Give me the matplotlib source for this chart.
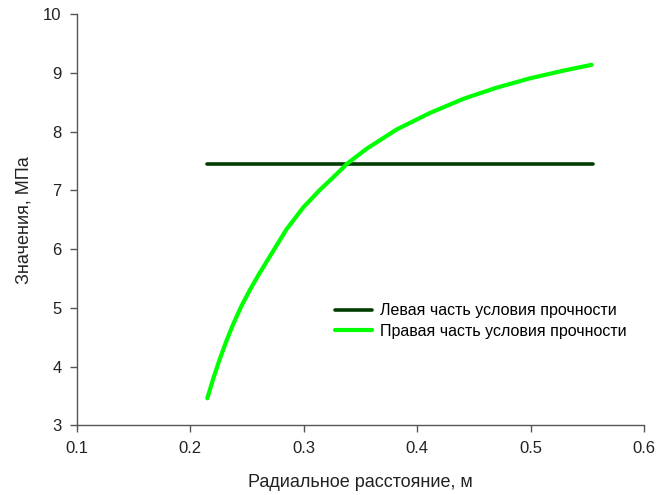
import matplotlib
matplotlib.use("Agg")
import matplotlib.pyplot as plt

plt.rcParams['font.family'] = ['Liberation Sans', 'DejaVu Sans']

# Left part of strength condition (constant)
left_x = [0.2145, 0.5553]
left_y = [7.45, 7.45]

# Right part of strength condition
right_x = [0.2149, 0.2202, 0.2261, 0.232, 0.2379, 0.2452, 0.2526, 0.26, 0.2673,
           0.2848, 0.2995, 0.3142, 0.329, 0.3378, 0.3554, 0.382, 0.4113, 0.4407,
           0.470, 0.4995, 0.5289, 0.5538]
right_y = [3.46, 3.80, 4.14, 4.45, 4.73, 5.04, 5.31, 5.56, 5.79,
           6.34, 6.71, 7.01, 7.28, 7.45, 7.71, 8.04, 8.32, 8.56,
           8.75, 8.91, 9.04, 9.14]

legend_labels = ["Левая часть условия прочности", "Правая часть условия прочности"]
x_ticks = [0.1, 0.2, 0.3, 0.4, 0.5, 0.6]
y_ticks = [3, 4, 5, 6, 7, 8, 9, 10]

fig = plt.figure(figsize=(6.56, 4.95), dpi=100)
ax = fig.add_axes([0.1174, 0.1408, 0.8643, 0.8303])

ax.plot(left_x, left_y, color='#003d00', lw=2.6, solid_capstyle='round',
        solid_joinstyle='round', label=legend_labels[0])
ax.plot(right_x, right_y, color='#00ff00', lw=3.0, solid_capstyle='round',
        solid_joinstyle='round', label=legend_labels[1])

ax.set_xlim(0.1, 0.6)
ax.set_ylim(3, 10)
ax.set_xticks(x_ticks)
ax.set_xticklabels([f"{v:.1f}" for v in x_ticks])
ax.set_yticks(y_ticks)

for s in ['top', 'right']:
    ax.spines[s].set_visible(False)
for s in ['left', 'bottom']:
    ax.spines[s].set_color('#555555')
    ax.spines[s].set_linewidth(1.0)
ax.tick_params(direction='out', length=5, width=1, color='#555555',
               labelsize=12, labelcolor='#222222', pad=6)

ax.set_xlabel("Радиальное расстояние, м", fontsize=13, color='#222222', labelpad=13)
ax.set_ylabel("Значения, МПа", fontsize=13, color='#222222', labelpad=8)

ax.legend(loc='center left', bbox_to_anchor=(0.444, 0.254), frameon=False,
          fontsize=11.5, handlelength=2.3, handletextpad=0.5, labelspacing=0.35,
          borderaxespad=0)

fig.savefig("out.png", dpi=100)
